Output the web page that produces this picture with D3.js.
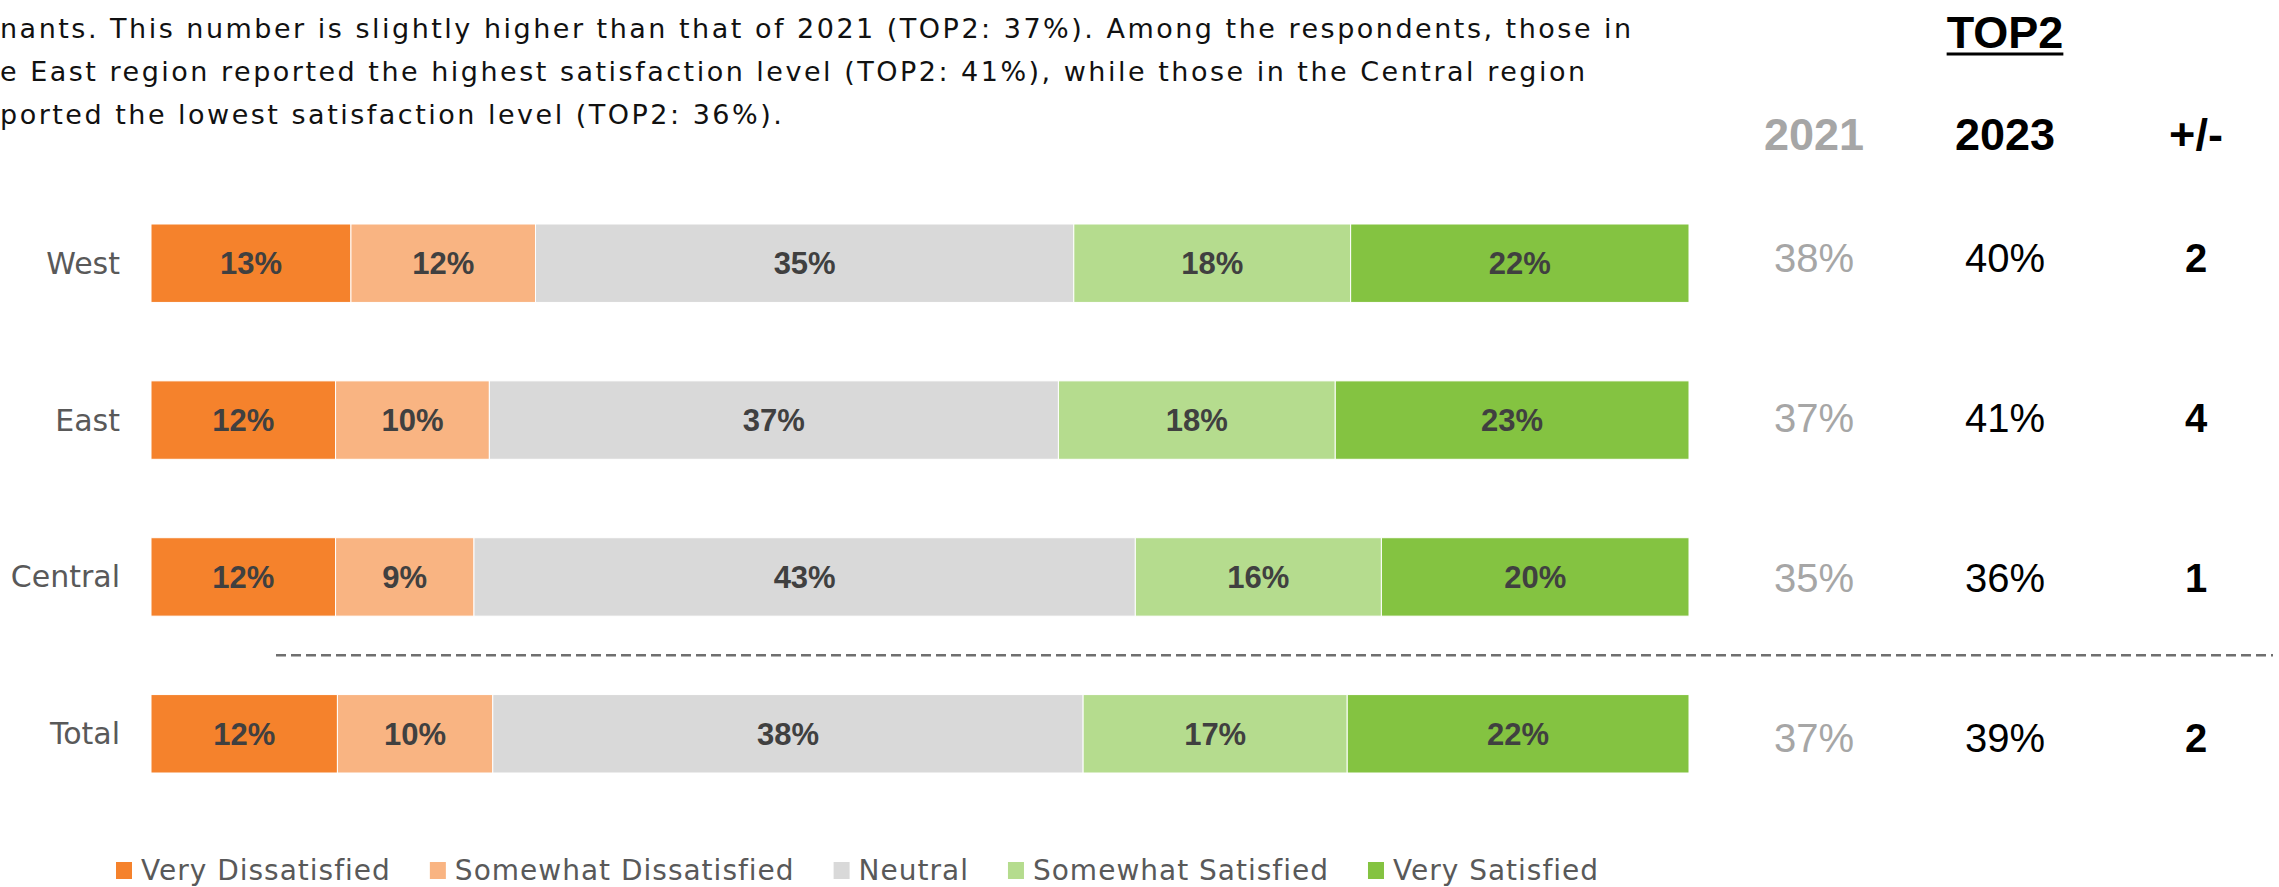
<!DOCTYPE html>
<head>
    <meta charset="utf-8">
    <script src="https://d3js.org/d3.v7.min.js"></script>
    <style>
        body { margin:0; overflow:hidden; background:#fff; }

        .intro {
            font-family: 'DejaVu Sans', sans-serif;
            font-size: 27px;
            letter-spacing: 2.5px;
            fill: #111;
        }

        .region-label {
            font-family: 'DejaVu Sans', sans-serif;
            font-size: 30px;
            fill: #595959;
        }

        .segment {
            stroke: #fff;
            stroke-width: 1;
        }

        .segment-label {
            font-family: 'Liberation Sans', Arial, sans-serif;
            font-size: 31px;
            font-weight: bold;
            fill: #404040;
        }

        .divider {
            stroke: #6f6f6f;
            stroke-width: 2.5;
            stroke-dasharray: 10 5;
        }

        .table-title, .table-head {
            font-family: 'Liberation Sans', Arial, sans-serif;
            font-size: 45px;
            font-weight: bold;
            fill: #000;
        }

        .table-cell {
            font-family: 'Liberation Sans', Arial, sans-serif;
            font-size: 40px;
            fill: #000;
        }

        .col-2021 { fill: #a6a6a6; }
        .col-diff { font-weight: bold; }

        .legend-label {
            font-family: 'DejaVu Sans', sans-serif;
            font-size: 28px;
            letter-spacing: 1px;
            fill: #595959;
        }
    </style>
</head>

<body>
  <script>
    const introLines = [
        'nants. This number is slightly higher than that of 2021 (TOP2: 37%). Among the respondents, those in',
        'e East region reported the highest satisfaction level (TOP2: 41%), while those in the Central region',
        'ported the lowest satisfaction level (TOP2: 36%).'
    ];

    const regions = ['West', 'East', 'Central', 'Total'];
    const levels = ['Very Dissatisfied', 'Somewhat Dissatisfied', 'Neutral', 'Somewhat Satisfied', 'Very Satisfied'];

    const veryDissatisfied = [13, 12, 12, 12];
    const somewhatDissatisfied = [12, 10, 9, 10];
    const neutral = [35, 37, 43, 38];
    const somewhatSatisfied = [18, 18, 16, 17];
    const verySatisfied = [22, 23, 20, 22];

    const tableHeads = ['2021', '2023', '+/-'];
    const top2021 = [38, 37, 35, 37];
    const top2023 = [40, 41, 36, 39];
    const top2Change = [2, 4, 1, 2];

    const levelColors = ['#f5822c', '#f9b482', '#d9d9d9', '#b5dc8e', '#84c341'];

    const width = 2279;
    const height = 887;

    const rows = regions.map((region, i) => ({
        region,
        'Very Dissatisfied': veryDissatisfied[i],
        'Somewhat Dissatisfied': somewhatDissatisfied[i],
        'Neutral': neutral[i],
        'Somewhat Satisfied': somewhatSatisfied[i],
        'Very Satisfied': verySatisfied[i]
    }));

    // 100% stacked: each row is normalised to its own total
    const series = d3.stack()
        .keys(levels)
        .offset(d3.stackOffsetExpand)(rows);

    const xScale = d3.scaleLinear()
        .domain([0, 1])
        .range([151, 1689]);

    const yScale = d3.scaleBand()
        .domain(regions)
        .range([224, 773])
        .paddingInner(0.5)
        .paddingOuter(0);

    const color = d3.scaleOrdinal()
        .domain(levels)
        .range(levelColors);

    // the TOP2 table on the right has its own row and column positions
    const rowScale = d3.scalePoint()
        .domain(regions)
        .range([258, 738]);

    const colScale = d3.scalePoint()
        .domain(tableHeads)
        .range([1814, 2196]);

    const svg = d3.select('body').append('svg')
        .attr('width', width)
        .attr('height', height);

    svg.call(addIntro);
    svg.call(addBars);
    svg.call(addDivider);
    svg.call(addTable);
    svg.call(addLegend);

    function addIntro(selection) {
        selection.append('g')
            .selectAll('text')
            .data(introLines)
            .join('text')
            .attr('class', 'intro')
            .attr('x', 0)
            .attr('y', (d, i) => 38 + i * 43)
            .text(d => d);
    }

    function addBars(selection) {
        const bars = selection.append('g').attr('class', 'bars');

        bars.append('g')
            .selectAll('text')
            .data(regions)
            .join('text')
            .attr('class', 'region-label')
            .attr('x', 120)
            .attr('y', d => yScale(d) + yScale.bandwidth() / 2)
            .attr('dy', '0.35em')
            .attr('text-anchor', 'end')
            .text(d => d);

        const layer = bars.selectAll('g.layer')
            .data(series)
            .join('g')
            .attr('class', 'layer')
            .attr('fill', d => color(d.key));

        layer.selectAll('rect')
            .data(d => d)
            .join('rect')
            .attr('class', 'segment')
            .attr('x', d => xScale(d[0]))
            .attr('y', d => yScale(d.data.region))
            .attr('width', d => xScale(d[1]) - xScale(d[0]))
            .attr('height', yScale.bandwidth());

        layer.each(function(s) {
            d3.select(this).selectAll('text')
                .data(s)
                .join('text')
                .attr('class', 'segment-label')
                .attr('x', d => (xScale(d[0]) + xScale(d[1])) / 2)
                .attr('y', d => yScale(d.data.region) + yScale.bandwidth() / 2)
                .attr('dy', '0.36em')
                .attr('text-anchor', 'middle')
                .text(d => `${d.data[s.key]}%`);
        });
    }

    function addDivider(selection) {
        const y = (yScale('Central') + yScale.bandwidth() + yScale('Total')) / 2;
        selection.append('line')
            .attr('class', 'divider')
            .attr('x1', 276)
            .attr('x2', 2273)
            .attr('y1', y)
            .attr('y2', y);
    }

    function addTable(selection) {
        const table = selection.append('g').attr('class', 'table');

        const title = table.append('text')
            .attr('class', 'table-title')
            .attr('x', colScale('2023'))
            .attr('y', 48)
            .attr('text-anchor', 'middle')
            .text('TOP2');

        const box = title.node().getBBox();
        table.append('line')
            .attr('x1', box.x)
            .attr('x2', box.x + box.width)
            .attr('y1', 54)
            .attr('y2', 54)
            .attr('stroke', '#000')
            .attr('stroke-width', 3);

        table.selectAll('text.table-head')
            .data(tableHeads)
            .join('text')
            .attr('class', (d, i) => i === 0 ? 'table-head col-2021' : 'table-head')
            .attr('x', d => colScale(d))
            .attr('y', 150)
            .attr('text-anchor', 'middle')
            .text(d => d);

        const columns = [
            {key: '2021', cls: 'col-2021', values: top2021, fmt: d => `${d}%`},
            {key: '2023', cls: 'col-2023', values: top2023, fmt: d => `${d}%`},
            {key: '+/-', cls: 'col-diff', values: top2Change, fmt: d => `${d}`}
        ];

        columns.forEach(col => {
            table.append('g')
                .selectAll('text')
                .data(col.values)
                .join('text')
                .attr('class', `table-cell ${col.cls}`)
                .attr('x', colScale(col.key))
                .attr('y', (d, i) => rowScale(regions[i]))
                .attr('dy', '0.36em')
                .attr('text-anchor', 'middle')
                .text(col.fmt);
        });
    }

    function addLegend(selection) {
        const legend = selection.append('g').attr('class', 'legend');
        let x = 116;

        levels.forEach(level => {
            legend.append('rect')
                .attr('x', x)
                .attr('y', 862)
                .attr('width', 16)
                .attr('height', 17)
                .attr('fill', color(level));

            const label = legend.append('text')
                .attr('class', 'legend-label')
                .attr('x', x + 25)
                .attr('y', 880)
                .text(level);

            x += 25 + label.node().getComputedTextLength() + 39;
        });
    }
  </script>
</body>
